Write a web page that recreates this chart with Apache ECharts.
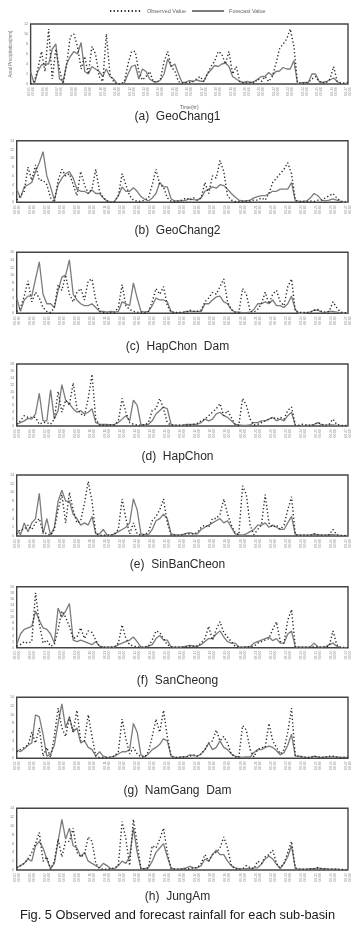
<!DOCTYPE html>
<html><head><meta charset="utf-8">
<script src="https://cdn.jsdelivr.net/npm/echarts@6/dist/echarts.min.js"></script>
<style>html,body{margin:0;padding:0;background:#fff}#c{width:355px;height:928px}</style>
</head><body><div id="c"></div>
<script>
// ---- data ----
const tickLabels = ["08-05\n00:00","08-06\n00:00","08-07\n00:00","08-08\n00:00","08-09\n00:00","08-10\n00:00","08-11\n00:00","08-12\n00:00","08-13\n00:00","08-14\n00:00","08-15\n00:00","08-16\n00:00","08-17\n00:00","08-18\n00:00","08-19\n00:00","08-20\n00:00","08-21\n00:00","08-22\n00:00","08-23\n00:00","08-24\n00:00","08-25\n00:00","08-26\n00:00","08-27\n00:00"];
const pointsPerTick = 4;
const panelTitles = ["(a)  GeoChang1","(b)  GeoChang2","(c)  HapChon  Dam","(d)  HapChon","(e)  SinBanCheon","(f)  SanCheong","(g)  NamGang  Dam","(h)  JungAm"];
const yMax = [12,14,16,18,14,20,14,14];
const seriesNames = ["Observed Value","Forecast Value"];
const captionText = "Fig. 5 Observed and forecast rainfall for each sub-basin";

const obsA=[0,0.5,3,6.5, 2.5,11,1,7, 3,0,4,9.5, 10,7.5,3,5.5, 2,7.5,6,1.5, 0.5,10,2,0.5, 0,0,0.5,4, 6.5,6.5,2.5,0.8, 1.5,2.5,0.5,0.3, 1,4.5,6.5,3.5, 2.5,0.5,0.2,0.3, 0.3,0.5,1,1.5, 0.5,2,3.5,4.5, 6.5,6,4,6.5, 2,3.5,0.5,0.2, 0.2,0.3,0.2,1, 0.5,1.5,0.5,1.5, 4,7,8,9, 11,7.5,0.3,0.2, 0.2,0.3,1,1.5, 0.5,0.2,0.3,1, 3.5,0.5,0.2,0.2, 0.3];
const fcA=[2.5,0,2.5,3.8, 4,4,7,8, 1,0.5,4,5.5, 6.5,6,8.3,2.5, 2,3.5,3,2.5, 1.5,3,1.5,1, 0,0,0.2,2, 3.5,3.8,1,3, 2.5,1,0.5,0.4, 0.8,2,5,3.5, 4,2,0.3,0.3, 0.7,0.5,0.8,0.6, 0.5,2,2.8,3.7, 3.5,4,4.2,3.5, 1.5,1,0.5,0.3, 0.5,0.3,0.5,1, 1.5,1.5,2.3,1.7, 2.5,2.6,3.3,3, 3,4.7,0,0.2, 0.3,0.3,2,2, 0.5,0.3,0.5,0.8, 1.2,0.5,0,0, 0];

const obsB=[0.5,1.5,2.5,8, 5,8.5,5,5, 4,1,0,5, 7.5,6,6.5,4, 1.5,7,4,2, 3,7.5,2.5,1, 0.3,0,0.2,1.5, 6.5,4,1.5,0.5, 0.3,0.2,0.5,1, 4,7.5,4,3.5, 1,0.3,0.2,0.3, 0.5,1,0.5,1, 0.5,1,4.5,2, 6,5.5,9.5,7, 1.5,0.5,0.2,0.2, 0.2,0.3,0.3,0.5, 0.5,1,0.5,2, 4.5,5.5,6.5,7.5, 9,6.5,0.5,0.2, 0.2,0.2,0.3,0.2, 0.5,0.5,1,1.5, 2,1,0.3,0.1, 0];
const fcB=[3,1,3.5,4, 4.5,7,9,11.5, 6,3.5,0.5,4, 5.5,6.5,7,5.5, 3,2.5,2.5,2, 2.8,2,2,1, 0.3,0.1,0.2,1.5, 3.5,2.5,2.5,3.3, 2.5,1.3,0.7,0.3, 1,2,4.5,3.5, 3.5,0.8,0.3,0.3, 0.3,0.5,0.8,0.6, 0.5,1,2.5,3, 3.5,3.2,4,3.8, 3,2,1.2,0.5, 0.3,0.3,0.5,1, 1.3,1.5,1.5,2, 2.5,2.5,3,3, 3,4.5,0.3,0.2, 0.2,0.3,1,2, 1.5,0.5,0.3,0.5, 0.8,0.5,0.2,0, 0];

const obsC=[0.5,1.5,4.5,8.5, 3,5.5,4,1.5, 0.5,0.2,1.5,7.5, 6,10,5,3, 5.5,6.5,3.5,8.5, 9,3.5,0.5,0.2, 0,0.2,0.3,1.5, 7.5,2,1,0.5, 0.3,0.3,0.2,0.5, 3,6.5,5,7, 2,0.3,0.2,0.2, 0.3,0.3,0.8,0.5, 0.5,0.8,3,4, 5.5,5,7,9, 3,1,0.3,0.2, 6.5,5,0.5,0.3, 1,2.5,5.5,2.5, 5,6,3,2, 7,9,0.5,0.2, 0.2,0.2,0.3,0.8, 1,0.5,0.3,0.5, 3,1.5,0.3,0.1, 0.2];
const fcC=[4,0.5,3.5,4.5, 4.5,9,13.5,5, 2.5,2.5,1.5,6, 9.5,10,14,5, 3.5,2.5,2,2, 2.5,1.5,0.5,0.5, 0.3,0.5,0.3,0.5, 3,2.5,2,8, 4,0.5,0.3,0.5, 2,4,3.5,3.5, 3,0.5,0.2,0.2, 0.2,0.5,0.5,0.5, 0.5,0.5,2.5,2.5, 3.5,4.3,4.5,3, 2.5,1,0.3,0.3, 0.2,0.2,0.3,1, 2.5,2.5,3,2.5, 3.5,2,2,1.5, 2.5,4.5,1,0, 0,0.2,0.3,0.8, 0.8,0.3,0.2,0.5, 0.5,0.3,0.1,0, 0.2];

const obsD=[0.5,1.5,3,2.5, 2.5,2.5,0.5,1, 1,0.5,2,10, 4,7.5,6,12.5, 5,3.5,3,8, 15,2,0.3,0.2, 0.2,0.3,0.3,1.5, 8,4,1,0.5, 0.3,0.2,0.3,1, 4.5,5,8,5, 1,0.2,0.2,0.2, 0.2,0.3,0.3,0.5, 0.8,1.5,2,3, 4,5,6.5,3, 4.5,2.5,0.5,0.2, 8,6,2,0.3, 0.5,1,1.5,2, 2.5,2,2.5,2, 4.5,5.5,0.3,0.2, 0.5,0.3,0.2,0.3, 1,0.5,0.2,0.5, 2,0.5,0.2,0.1, 0.2];
const fcD=[0.5,1,1.5,2.2, 2,3.5,9.5,1.5, 1.5,10.5,2,4.5, 12,7.5,6.5,5, 4,4.5,3.5,4, 5,1,0.5,0.5, 0.5,0.3,0.5,1, 2,3,1.5,7.5, 6,0.5,0.3,0.5, 1.5,3.5,4.5,5.5, 5,0.5,0.2,0.2, 0.2,0.5,0.5,0.5, 0.5,1,2,1.5, 2,3.5,4,3, 2.5,1.5,0.5,0.3, 0.2,0.2,0.3,1, 1,1.5,1.5,2, 2.5,1.5,2,1.5, 3,4,0.2,0, 0,0.2,0.2,0.5, 1,0.3,0.2,0.3, 0.3,0.2,0.1,0, 0];

const obsE=[0.5,1.5,1.5,2.5, 1.5,3,4,1, 0.5,0.2,1.5,6, 9.5,3,10,6, 3,3.5,7.5,12.5, 8,0.5,0.2,0.2, 0.2,0.2,0.5,1.5, 8.5,4,0.5,3, 0.5,0.2,0.3,1, 3.5,4.5,6,8.5, 3,0.3,0.2,0.2, 0.3,0.5,0.5,0.5, 0.8,2,2.5,2, 4,4,5,8.5, 5,2.5,0.8,0.3, 11.5,9.5,2.5,0.3, 1.5,2.5,9.5,3, 2,2.5,1.5,2.5, 6,9,0.3,0.2, 0.2,0.2,0.2,0.5, 0.3,0.2,0.2,0.3, 1.5,0.3,0.1,0.1, 0];
const fcE=[1.5,0.3,3,1, 3,4,9.8,0.5, 4,0.2,2,8, 10.5,8,8,5, 4,2.5,3,2.5, 4.5,0.5,0.5,1.5, 0.2,0.2,0.5,1, 1.5,2,3,8.5, 6,0.5,0.3,0.3, 1.5,3.5,4,5, 4,0.5,0.3,0.2, 0.3,0.6,0.8,0.5, 0.5,1.5,2,2.5, 3,3.5,4,3, 3.5,2,0.5,0.3, 0.2,0.5,1,1.5, 2.5,2.5,3,2, 2.5,2,1.5,1.5, 3,4.5,0.3,0.2, 0.2,0.2,0.2,0.5, 0.3,0.2,0.2,0.3, 0.3,0.2,0.1,0, 0];

const obsF=[0.5,1,2,1.5, 2,18,8,1.5, 2.5,0.5,1,6, 12,10,7,3, 3.5,6.5,3,5.5, 5,2.5,0.3,0.2, 0.2,0.2,0.3,1.5, 7.5,3,1,0.5, 0.3,0.2,0.2,0.5, 2.5,5.5,5,3, 1,0.3,0.2,0.2, 0.2,0.3,0.5,0.5, 0.5,1.5,3,7, 2.5,6,8.5,5, 3.5,2,0.5,0.2, 0.2,0.3,0.3,0.5, 1.5,2,2.5,3, 6,8.5,2,1.5, 9,12.5,0.3,0.2, 0.2,0.2,0.2,0.3, 0.2,0.2,0.3,0.5, 5.5,1,0.1,0.1, 0];
const fcF=[1,4.5,6,6.5, 7,12,9,6.5, 6,4.5,1.5,13, 10,12,14.5,2.5, 2,2.5,2,1.5, 1,2,0.5,0.3, 0.2,0.2,0.2,1, 1.5,2,2.5,3.5, 2,0.2,0.2,0.5, 1,3,4,2.5, 2.5,0.3,0.2,0.2, 0.3,0.5,0.8,0.5, 0.5,1,2,3, 3,4.5,5.5,3.5, 2,1.5,1.5,0.3, 0.2,0.3,0.3,1.5, 2,2.5,3,3.5, 2.3,3,1.5,1.5, 4.5,5.5,0.3,0.2, 0.2,0.2,0.3,1.5, 0.3,0.2,0.3,1, 1.5,0.5,0.1,0, 0];

const obsG=[1.5,2,2.5,3, 6,3.5,7,0.5, 2.5,0.2,5,11.5, 7,5,9.5,6, 11,4,4,10, 5,0.5,0.2,0.2, 0.2,0.3,0.5,1.5, 9,4.5,1,2.5, 1,0.3,0.3,1.5, 5,9,6,11, 5,0.5,0.2,0.2, 0.3,0.3,0.5,0.8, 0.5,1,2,3.5, 4,6.5,4,5, 3.5,1,0.3,0.2, 7.5,6.5,2,0.3, 2,2.5,2.5,8, 4,2.5,1,2, 6,11.5,0.5,0.5, 0.3,0.2,0.2,0.5, 0.3,0.2,0.3,0.5, 0.5,0.3,0.2,0.2, 0.2];
const fcG=[2,1.5,2.2,3, 3.5,10,9.5,5.5, 0.5,1,3,8, 12.5,7,9.5,6, 7,3.5,4,2.5, 2,0.5,1.5,0.5, 0.2,0.2,0.5,1, 1.5,1.5,2,8, 6,0.8,0.3,1, 2,2.5,3.2,4.5, 4,0.5,0.2,0.2, 0.3,0.3,0.8,0.6, 0.5,1,2,3.5, 2,2.5,4,2.5, 2,1,0.5,0.3, 0.2,0.3,0.3,1.3, 2,2,2.5,2.8, 2.5,1.8,0.8,1.3, 3,5.5,0.5,0.5, 0.3,0.2,0.2,0.5, 0.3,0.2,0.3,0.3, 0.3,0.3,0.2,0.2, 0.2];

const obsH=[0.5,1,1.5,2.5, 4,6,8.5,2, 3,0.2,2,7, 3,6.5,6.5,9.5, 4,3,3.5,7.5, 6.5,1.5,0.3,0.2, 0.2,0.3,0.5,1, 11,7,1,11.5, 6,0.3,0.3,0.5, 5.5,5,7,9.5, 4,0.3,0.2,0.2, 0.2,0.3,0.3,0.5, 0.5,1.5,3.5,2, 3.5,4,5,7.5, 5,1,0.3,0.2, 0.3,1,0.5,0.3, 2,1.5,3,3.5, 4.5,1.5,0.5,1.5, 4,6.5,0.5,0.2, 0.2,0.2,0.2,0.3, 0.5,0.3,0.2,0.2, 0.2,0.2,0.1,0.1, 0];
const fcH=[0.5,1,1.5,2.5, 2,5.5,6.5,5, 2.5,0.3,1.5,6.5, 11.5,7,9.5,5.5, 5,3,4,2, 1.5,1,0.5,1.5, 1,0.3,0.3,1, 2,1.5,3,9.5, 4,0.3,0.3,0.5, 2,4,5,6, 3,0.5,0.2,0.2, 0.3,0.5,0.8,0.5, 0.5,1,2.5,2, 3.5,4.5,3.5,3.5, 2,1,0.5,0.3, 0.2,0.3,0.3,0.5, 0.5,1.3,2.5,3.2, 2.5,1.3,0.3,1.5, 3,5.5,0.3,0.2, 0.2,0.2,0.3,0.3, 0.5,0.3,0.3,0.2, 0.2,0.2,0.1,0.1, 0];

const observed = [obsA,obsB,obsC,obsD,obsE,obsF,obsG,obsH];
const forecast = [fcA,fcB,fcC,fcD,fcE,fcF,fcG,fcH];

// ---- layout ----
const gridTops = [24, 140.7, 252.3, 364, 475, 586.7, 697.3, 808.3];
const gridH = [60, 61.6, 61, 62, 61, 61, 61, 61.7];
const titleY = [118, 232, 348, 458, 566, 682, 792, 898];

const nPts = (tickLabels.length-1)*pointsPerTick+1;
const categories = [];
for (let i=0;i<nPts;i++) categories.push(i%pointsPerTick===0 ? tickLabels[i/pointsPerTick] : '');

const grids=[], xAxes=[], yAxes=[], series=[], graphics=[];
for (let p=0;p<8;p++){
  grids.push({left:16.7, right:7, top:gridTops[p], height:gridH[p], show:true, borderColor:'#444', borderWidth:1.4, backgroundColor:'transparent'});
  xAxes.push({type:'category', gridIndex:p, data:categories, boundaryGap:false,
    axisLine:{show:false}, axisTick:{show:false},
    axisLabel:{interval:pointsPerTick-1, rotate:90, fontSize:3.4, lineHeight:4, color:'#999', margin:3, fontFamily:'Liberation Sans'},
    splitLine:{show:false},
    name: p===0 ? 'Time(hr)' : '', nameLocation:'middle', nameGap:21,
    nameTextStyle:{fontSize:5, color:'#666', fontFamily:'Liberation Sans'}});
  yAxes.push({type:'value', gridIndex:p, min:0, max:yMax[p], interval:2,
    axisLine:{show:false}, axisTick:{show:false}, splitLine:{show:false},
    axisLabel:{fontSize:3.8, color:'#888', margin:2.5, fontFamily:'Liberation Sans'},
    name: p===0 ? 'Areal Precipitation(mm)' : '', nameLocation:'middle', nameRotate:90, nameGap:12.5,
    nameTextStyle:{fontSize:4.5, color:'#777', fontFamily:'Liberation Sans'}});
  series.push({type:'line', name:seriesNames[1], xAxisIndex:p, yAxisIndex:p, data:forecast[p],
    showSymbol:false, symbol:'none', lineStyle:{color:'#7c7c7c', width:1.3}, itemStyle:{color:'#7c7c7c'}, z:2, animation:false});
  series.push({type:'line', name:seriesNames[0], xAxisIndex:p, yAxisIndex:p, data:observed[p],
    showSymbol:false, symbol:'none', lineStyle:{color:'#2a2a2a', width:1.4, type:[1.3,2.3]}, itemStyle:{color:'#2a2a2a'}, z:3, animation:false});
  graphics.push({type:'text', left:'center', top:titleY[p]-7, style:{text:panelTitles[p], fontSize:12, fontFamily:'Liberation Sans', fill:'#2a2a2a'}});
}
graphics.push({type:'text', left:'center', top:909, style:{text:captionText, fontSize:12.8, fontFamily:'Liberation Sans', fill:'#1a1a1a'}});

const chart = echarts.init(document.getElementById('c'), null, {renderer:'canvas'});
chart.setOption({
  animation:false,
  backgroundColor:'#fff',
  legend:{data:seriesNames, top:3, left:104, itemWidth:32, itemHeight:5, itemGap:5,
    itemStyle:{color:'transparent', borderColor:'transparent', borderWidth:0},
    textStyle:{fontSize:5.5, color:'#666', fontFamily:'Liberation Sans'}},
  grid:grids, xAxis:xAxes, yAxis:yAxes, series:series, graphic:graphics
});
</script></body></html>
